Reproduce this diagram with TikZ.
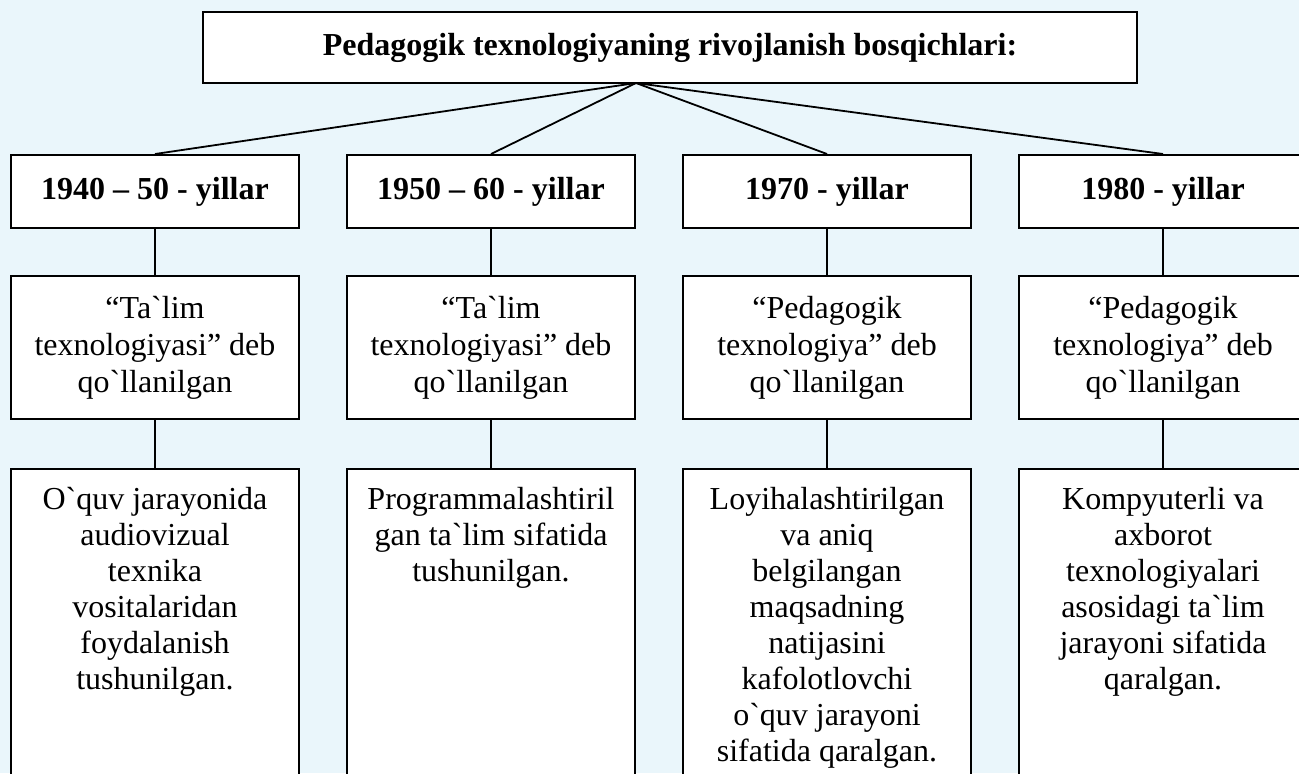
\documentclass[tikz,border=0pt]{standalone}
\usepackage{fontspec}
\setmainfont{Liberation Serif}
\definecolor{bgblue}{RGB}{234,246,251}
\newcommand{\bt}{\textasciigrave}
\newcommand{\desctext}[1]{\parbox[t]{142pt}{\centering #1}}
\tikzset{
  stagebox/.style={draw, fill=white, line width=1pt, align=center,
    minimum width=144pt, inner sep=0pt},
  yearbox/.style={stagebox, minimum height=36.5pt, font=\fontsize{16}{19}\selectfont\bfseries},
  namebox/.style={stagebox, minimum height=71.5pt, font=\fontsize{16}{18.5}\selectfont},
  descbox/.style={stagebox, anchor=north, inner ysep=6.5pt, text height=13.5pt,
    text depth=200pt, font=\fontsize{16}{18}\selectfont},
  link/.style={line width=0.9pt}
}
\begin{document}
\begin{tikzpicture}[x=0.5pt,y=-0.5pt]
  \useasboundingbox (0,0) rectangle (1299,773);
  \clip (0,0) rectangle (1299,773);
  \fill[bgblue] (0,0) rectangle (1299,773);

  \node[stagebox, minimum width=467pt, minimum height=35.5pt,
    font=\fontsize{16}{19}\selectfont\bfseries] (title) at (670,47.5)
    {Pedagogik texnologiyaning rivojlanish bosqichlari:};
  \coordinate (apex) at (636,83);

  \node[yearbox] (yr1) at (155,191.5) {1940 -- 50 - yillar};
  \node[yearbox] (yr2) at (491,191.5) {1950 -- 60 - yillar};
  \node[yearbox] (yr3) at (827,191.5) {1970 - yillar};
  \node[yearbox] (yr4) at (1163,191.5) {1980 - yillar};

  \node[namebox] (nm1) at (155,347.5) {“Ta\bt lim\\texnologiyasi” deb\\qo\bt llanilgan};
  \node[namebox] (nm2) at (491,347.5) {“Ta\bt lim\\texnologiyasi” deb\\qo\bt llanilgan};
  \node[namebox] (nm3) at (827,347.5) {“Pedagogik\\texnologiya” deb\\qo\bt llanilgan};
  \node[namebox] (nm4) at (1163,347.5) {“Pedagogik\\texnologiya” deb\\qo\bt llanilgan};

  \node[descbox] (ds1) at (155,468) {\desctext{O\bt quv jarayonida\\audiovizual\\texnika\\vositalaridan\\foydalanish\\tushunilgan.}};
  \node[descbox] (ds2) at (491,468) {\desctext{Programmalashtiril\\gan ta\bt lim sifatida\\tushunilgan.}};
  \node[descbox] (ds3) at (827,468) {\desctext{Loyihalashtirilgan\\va aniq\\belgilangan\\maqsadning\\natijasini\\kafolotlovchi\\o\bt quv jarayoni\\sifatida qaralgan.}};
  \node[descbox] (ds4) at (1163,468) {\desctext{Kompyuterli va\\axborot\\texnologiyalari\\asosidagi ta\bt lim\\jarayoni sifatida\\qaralgan.}};

  \foreach \i in {1,...,4}{
    \draw[link] (apex) -- (yr\i.north);
    \draw[link] (yr\i) -- (nm\i);
    \draw[link] (nm\i) -- (ds\i);
  };
\end{tikzpicture}
\end{document}
